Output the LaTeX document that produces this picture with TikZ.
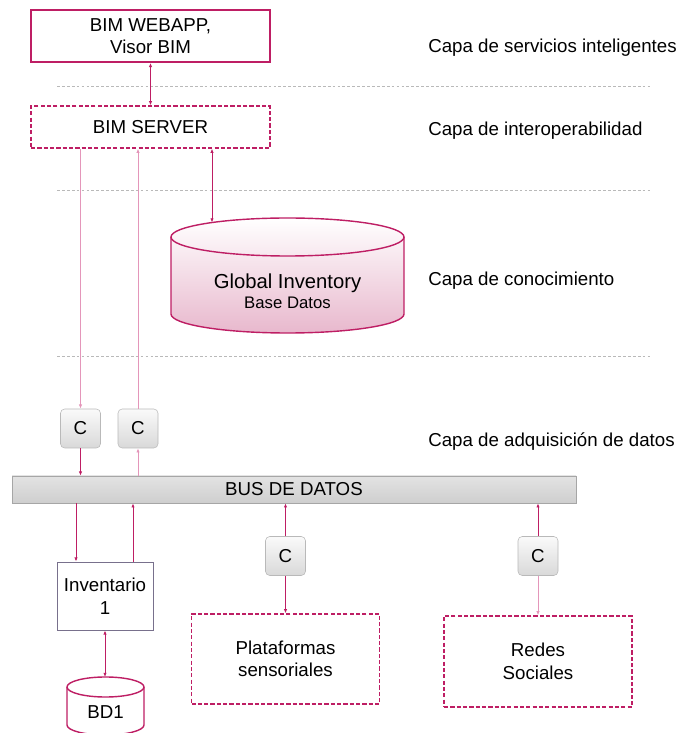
\documentclass[tikz,border=0pt]{standalone}
\usepackage{fontspec}
\setmainfont{Liberation Sans}
\usetikzlibrary{arrows.meta,calc,positioning}
\definecolor{capacrim}{RGB}{190,30,100}
\definecolor{capapink}{RGB}{228,150,186}
\definecolor{capafill}{RGB}{232,184,205}
\definecolor{invgray}{RGB}{120,112,140}
\newcommand{\pxu}{0.025cm}

\tikzset{
  >={Latex[length=3pt,width=2.4pt]},
  boxsolid/.style={draw=capacrim,line width=1.3pt,minimum width=239*\pxu,minimum height=52*\pxu,align=center,inner sep=0pt},
  boxdash/.style={draw=capacrim,line width=0.9pt,dash pattern=on 3pt off 1.5pt,align=center,inner sep=0pt},
  cbox/.style={draw=gray!55,rounded corners=3pt,top color=gray!4,bottom color=gray!30,minimum width=40*\pxu,minimum height=39*\pxu,inner sep=0pt},
  busbox/.style={draw=gray!70,top color=gray!22,middle color=gray!6,bottom color=gray!38,minimum width=564*\pxu,minimum height=27*\pxu,inner sep=0pt},
  invbox/.style={draw=invgray,line width=0.6pt,minimum width=96*\pxu,minimum height=68*\pxu,align=center,inner sep=0pt},
  layer/.style={anchor=base west,inner sep=0pt},
  layersep/.style={gray!55,line width=0.5pt,dash pattern=on 2pt off 1.5pt},
  link/.style={capacrim,line width=0.6pt},
  linklight/.style={capapink,line width=0.6pt},
  dbase/.style={draw=capacrim,line width=1pt}
}

\begin{document}
\begin{tikzpicture}[x=0.025cm,y=0.025cm,font=\fontsize{13.3}{16}\selectfont]
\useasboundingbox (0,0) rectangle (676,733);

% layer separators and labels
\foreach \ly in {647,543,377}
  \draw[layersep] (57,\ly) -- (650,\ly);
\node[layer] (lyserv) at (428,680) {Capa de servicios inteligentes};
\node[layer] (lyinter) at (428,597) {Capa de interoperabilidad};
\node[layer] (lyconoc) at (428,447) {Capa de conocimiento};
\node[layer] (lyadq) at (428,286) {Capa de adquisición de datos};

% servicios / interoperabilidad
\node[boxsolid] (webapp) at (150.5,697) {BIM WEBAPP,\\Visor BIM};
\node[boxdash,minimum width=239*\pxu,minimum height=42*\pxu] (server) at (150.5,606) {BIM SERVER};

% global inventory database
\shade[top color=white,bottom color=capafill,dbase] (171,496) -- (171,419)
  arc[start angle=180,end angle=360,x radius=116.5,y radius=19] -- (404,496)
  arc[start angle=0,end angle=180,x radius=116.5,y radius=19] -- cycle;
\draw[dbase] (171,496) arc[start angle=180,end angle=360,x radius=116.5,y radius=19];
\node[anchor=base,font=\fontsize{14.4}{17}\selectfont] (globname) at (287.5,444) {Global Inventory};
\node[anchor=base,font=\fontsize{11.9}{14}\selectfont] (globsub) at (287.5,424) {Base Datos};
\coordinate (globtop) at (212,510.5);

% conectores y bus
\node[cbox] (c1) at (80.5,304.5) {C};
\node[cbox] (c2) at (138,304.5) {C};
\node[busbox] (bus) at (294,243.5) {BUS DE DATOS};
\node[cbox] (c3) at (285.5,177) {C};
\node[cbox] (c4) at (538,177) {C};

% fuentes de datos
\node[invbox] (inv) at (105,137) {Inventario\\1};
\node[boxdash,minimum width=188*\pxu,minimum height=90*\pxu] (plat) at (285.5,74) {Plataformas\\sensoriales};
\node[boxdash,minimum width=188*\pxu,minimum height=91*\pxu] (redes) at (538,71.5) {Redes\\Sociales};

% BD1
\draw[dbase,fill=white] (67,46) -- (67,8)
  arc[start angle=180,end angle=360,x radius=38.5,y radius=10] -- (144,46)
  arc[start angle=0,end angle=180,x radius=38.5,y radius=10] -- cycle;
\draw[dbase] (67,46) arc[start angle=180,end angle=360,x radius=38.5,y radius=10];
\node[anchor=base] (bdname) at (105.5,14) {BD1};
\coordinate (bdtop) at (105,56);

% links
\coordinate (invin) at ($(inv.north)+(-29,0)$);
\coordinate (invout) at ($(inv.north)+(28,0)$);
\draw[link,<->] (webapp) -- (server);
\draw[linklight,->] (server.south -| c1.north) -- (c1.north);
\draw[linklight,->] (c2.north) -- (server.south -| c2.north);
\draw[link,<->] (globtop) -- (server.south -| globtop);
\draw[link,->] (c1.south) -- (bus.north -| c1.south);
\draw[linklight,->] (bus.north -| c2.south) -- (c2.south);
\draw[link,->] (bus.south -| invin) -- (invin);
\draw[link,->] (invout) -- (bus.south -| invout);
\draw[link,->] (c3.north) -- (bus.south -| c3.north);
\draw[link,->] (c3.south) -- (plat.north -| c3.south);
\draw[link,->] (c4.north) -- (bus.south -| c4.north);
\draw[linklight,->] (c4.south) -- (redes.north -| c4.south);
\draw[link,<->] (inv.south) -- (bdtop);
\end{tikzpicture}
\end{document}
